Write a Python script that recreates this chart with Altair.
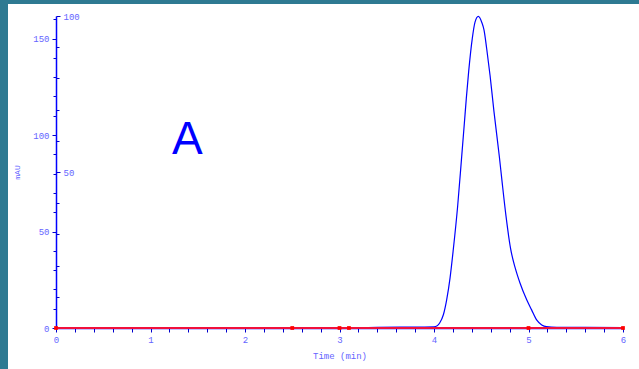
import altair as alt
import pandas as pd

# --- data ---
blue_time = [0.0, 3.2, 3.4, 3.9, 4.0, 4.03, 4.06, 4.10, 4.134, 4.17, 4.204, 4.25, 4.29,
             4.321, 4.342, 4.367, 4.405, 4.434, 4.469, 4.505, 4.529, 4.557, 4.593,
             4.635, 4.691, 4.72, 4.762, 4.811, 4.86, 4.910, 4.981, 5.033, 5.086, 5.14,
             5.19, 5.3, 5.6, 6.0]
blue_mau = [0.0, 0.0, 0.4, 0.5, 0.6, 1.0, 2.6, 7.0, 14.6, 26.0, 40.6, 63.0, 87.0,
            106.0, 119.0, 133.0, 150.0, 158.5, 161.5, 158.5, 154.5, 145.0, 131.0,
            112.0, 89.0, 76.0, 58.0, 41.0, 31.0, 23.3, 14.6, 9.4, 4.2, 1.6,
            0.7, 0.4, 0.3, 0.2]

red_time = [0.0, 2.5, 3.0, 3.1, 5.0, 6.0]
red_mau = [0.0, 0.0, 0.0, 0.0, 0.0, 0.0]

x_ticks = [round(0.2 * k, 1) for k in range(31)]
y_ticks = list(range(0, 170, 10))
y2_ticks = list(range(0, 110, 10))

annotation = ["A"]
annotation_time = [1.39]
annotation_mau = [90.0]

blue_df = pd.DataFrame({"t": blue_time, "v": blue_mau})
red_df = pd.DataFrame({"t": red_time, "v": red_mau})
ann_df = pd.DataFrame({"label": annotation, "t": annotation_time, "v": annotation_mau})

W, H = 567, 312
FONT = "Liberation Mono"
LABEL_COLOR = "#6464ff"
FRAME = "#2e7a92"

x_scale = alt.Scale(domain=[0, 6], nice=False, zero=False)
y_scale = alt.Scale(domain=[0, 161.7], nice=False)
y2_scale = alt.Scale(domain=[0, 100], nice=False)

x_axis = alt.Axis(
    values=x_ticks,
    labelExpr="datum.value % 1 === 0 ? format(datum.value, 'd') : ''",
    tickSize=4, labelPadding=3, tickColor="#0000cc", domainColor="#0000ff",
    domainWidth=1.5, labelFont=FONT, labelFontSize=9, labelColor=LABEL_COLOR,
    title="Time (min)", titleFont=FONT, titleFontSize=9, titleFontWeight="normal",
    titleColor=LABEL_COLOR, titleY=27, titleBaseline="middle", grid=False,
    labelOverlap=False, labelFlush=False,
)
y_axis = alt.Axis(
    values=y_ticks, labelExpr="datum.value % 50 === 0 ? datum.label : ''",
    tickSize={"condition": {"test": "datum.value % 50 === 0", "value": 4}, "value": 3},
    labelPadding=3, tickColor="#0000cc", domainColor="#0000ff", domainWidth=1.5,
    labelFont=FONT, labelFontSize=9, labelColor=LABEL_COLOR,
    title="mAU", titleFont=FONT, titleFontSize=8, titleFontWeight="normal",
    titleColor=LABEL_COLOR, titleX=-39, titleY=H / 2, titleAngle=270,
    titleAlign="center", titleBaseline="middle", grid=False, labelOverlap=False,
    labelFlush=False,
)
y2_axis = alt.Axis(
    orient="right", offset=-W, values=y2_ticks,
    labelExpr="datum.value % 50 === 0 && datum.value > 0 ? datum.label : ''",
    tickSize={"condition": {"test": "datum.value % 50 === 0", "value": 4}, "value": 3},
    labelPadding=3, tickColor="#0000cc", domain=False,
    labelFont=FONT, labelFontSize=9, labelColor=LABEL_COLOR, title=None,
    grid=False, labelOverlap=False, labelFlush=False,
)

X = alt.X("t:Q", scale=x_scale, axis=x_axis)
Y = alt.Y("v:Q", scale=y_scale, axis=y_axis, title="mAU")
Y2 = alt.Y("v:Q", scale=y2_scale, axis=y2_axis)

# teal window frame at the left and top edges of the page
frame_left = alt.Chart(alt.Data(values=[{}])).mark_rect(color=FRAME).encode(
    x=alt.value(-56), x2=alt.value(-48), y=alt.value(-16), y2=alt.value(H + 41)
)
frame_top = alt.Chart(alt.Data(values=[{}])).mark_rect(color=FRAME).encode(
    x=alt.value(-56), x2=alt.value(W + 16), y=alt.value(-16), y2=alt.value(-12)
)

blue = alt.Chart(blue_df).mark_line(
    color="#0000ff", strokeWidth=1.2, interpolate="monotone"
).encode(x=X, y=Y)
text = alt.Chart(ann_df).mark_text(
    font="Liberation Sans", fontSize=46, color="#0000ff", align="center", baseline="alphabetic"
).encode(x=X, y=Y, text="label:N")
primary = alt.layer(blue, text)

red_base = alt.Chart(red_df).encode(x=X, y=Y2)
red_line = red_base.mark_line(color="#f0103c", strokeWidth=2)
red_pts = red_base.mark_square(color="#ff0000", size=14, opacity=1)
secondary = alt.layer(red_line, red_pts)

chart = alt.layer(frame_left, frame_top, primary, secondary).resolve_scale(y="independent").properties(
    width=W, height=H,
    background="white",
    padding={"left": 56, "top": 16, "right": 16, "bottom": 41},
    autosize=alt.AutoSizeParams(type="none"),
).configure_view(stroke=None)

chart.save("out.html", embed_options={"renderer": "svg", "actions": False})
